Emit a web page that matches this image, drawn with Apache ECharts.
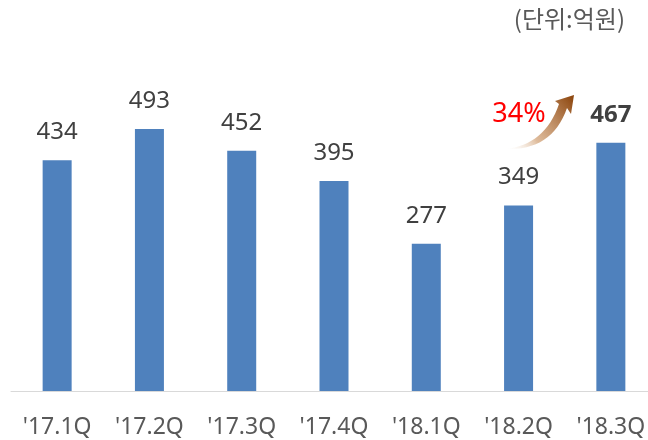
<!DOCTYPE html>
<html>
<head>
<meta charset="utf-8">
<script src="https://cdn.jsdelivr.net/npm/echarts@6/dist/echarts.min.js"></script>
<style>
  html, body { margin: 0; padding: 0; background: #fff; overflow: hidden; }
  /* a bit wider than the window: the axis runs past the right edge in the original */
  #main { width: 658px; height: 440px; }
</style>
</head>
<body>
<div id="main"></div>
<script>
  var categories = ["'17.1Q", "'17.2Q", "'17.3Q", "'17.4Q", "'18.1Q", "'18.2Q", "'18.3Q"];
  var revenue = [434, 493, 452, 395, 277, 349, 467];
  var unitText = '(단위:억원)';
  var growthText = '34%';

  var FONT = "'Noto Sans', 'Noto Sans CJK KR', sans-serif";
  var KR_FONT = "'Noto Sans CJK KR', sans-serif";
  var lastIdx = revenue.length - 1;

  var barData = revenue.map(function (v, i) {
    if (i === lastIdx) {
      return { value: v, label: { fontWeight: 'bold', color: '#404040' } };
    }
    return v;
  });

  // quadratic curve points for the arrow body outline
  function quad(p0, c, p1, n) {
    var pts = [];
    for (var i = 0; i <= n; i++) {
      var t = i / n, u = 1 - t;
      pts.push([u * u * p0[0] + 2 * u * t * c[0] + t * t * p1[0],
                u * u * p0[1] + 2 * u * t * c[1] + t * t * p1[1]]);
    }
    return pts;
  }
  var upper = quad([505, 149], [545, 145], [559, 104], 16);
  var lower = quad([567, 108], [552, 151], [505, 149], 16);
  var arrowPts = upper.concat([[555, 101], [574, 95], [571, 114]], lower);

  var arrowFill = new echarts.graphic.LinearGradient(505, 150, 574, 95, [
    { offset: 0, color: 'rgba(255,255,255,0)' },
    { offset: 0.35, color: 'rgba(214,170,130,0.8)' },
    { offset: 1, color: '#8a4209' }
  ], true);

  var myChart = echarts.init(document.getElementById('main'));
  var option = {
    animation: false,
    grid: { left: 11, top: 72, bottom: 49, width: 646 },
    xAxis: {
      type: 'category',
      data: categories,
      axisLine: { lineStyle: { color: '#d9d9d9', width: 1 } },
      axisTick: { show: false },
      axisLabel: { color: '#595959', fontSize: 23, fontFamily: FONT, margin: 25, interval: 0 }
    },
    yAxis: {
      type: 'value',
      min: 0,
      max: 600,
      show: false,
      splitLine: { show: false }
    },
    series: [{
      type: 'bar',
      data: barData,
      barWidth: 29,
      itemStyle: { color: '#4f81bd' },
      label: {
        show: true,
        position: 'top',
        distance: 16,
        color: '#404040',
        fontSize: 24,
        fontFamily: FONT
      }
    }],
    graphic: [
      {
        type: 'text',
        x: 625,
        y: 7,
        style: { text: unitText, fill: '#595959', fontSize: 24, fontFamily: KR_FONT, textAlign: 'right' }
      },
      {
        type: 'polygon',
        shape: { points: arrowPts },
        style: { fill: arrowFill }
      },
      {
        type: 'text',
        x: 519,
        y: 114,
        style: {
          text: growthText, fill: '#ff0000', fontSize: 27, fontFamily: FONT,
          textAlign: 'center', textVerticalAlign: 'middle'
        }
      }
    ]
  };
  myChart.setOption(option, true);
  window.addEventListener('resize', function () { myChart.resize(); });
</script>
</body>
</html>
